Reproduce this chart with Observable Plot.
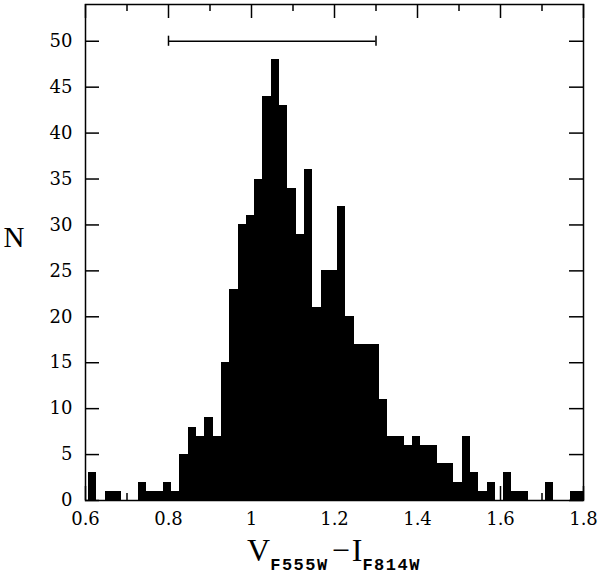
<!DOCTYPE html>
<html><head><meta charset="utf-8">
<script src="https://cdn.jsdelivr.net/npm/d3@7"></script>
<script src="https://cdn.jsdelivr.net/npm/@observablehq/plot@0.6"></script>
<style>body{margin:0;background:#fff;}</style>
</head><body><div id="chart"></div>
<script>
// Histogram of V(F555W) - I(F814W) colours
const binStart = 0.6077;
const binWidth = 0.02;
const counts = [3,0,1,1,0,0,2,1,1,2,1,5,8,7,9,7,15,23,30,31,35,44,48,43,34,29,36,21,25,25,32,20,17,17,17,11,7,7,6,7,6,6,4,4,2,7,3,1,2,0,3,1,1,0,0,2,0,0,1,1];
const xTicks = [0.6,0.8,1,1.2,1.4,1.6,1.8];
const xTickLabels = ["0.6","0.8","1","1.2","1.4","1.6","1.8"];
const xMinorTicks = [0.7,0.9,1.1,1.3,1.5,1.7];
const yTicks = [0,5,10,15,20,25,30,35,40,45,50];
const yTickLabels = ["0","5","10","15","20","25","30","35","40","45","50"];
const errBarX = [0.8, 1.3];
const errBarY = 50;
const errCap = 0.55;

const bins = counts.map((n, i) => ({x1: binStart + i*binWidth, x2: binStart + (i+1)*binWidth, n})).filter(d => d.n > 0);

const W = 600, H = 577, ML = 85, MR = 17, MT = 4, MB = 77;
const fw = W - ML - MR, fh = H - MT - MB;

const plot = Plot.plot({
  width: W, height: H,
  marginLeft: ML, marginRight: MR, marginTop: MT, marginBottom: MB,
  x: {domain: [0.6, 1.8], axis: null},
  y: {domain: [0, 54], axis: null},
  style: {fontFamily: "'DejaVu Serif', serif", fontSize: "18px", color: "black", background: "white"},
  marks: [
    Plot.rectY(bins, {x1: "x1", x2: "x2", y: "n", fill: "black", clip: true, shapeRendering: "crispEdges"}),
    Plot.ruleY([errBarY], {x1: errBarX[0], x2: errBarX[1], stroke: "black", strokeWidth: 1.5}),
    Plot.ruleX(errBarX, {y1: errBarY - errCap, y2: errBarY + errCap, stroke: "black", strokeWidth: 1.5}),
    Plot.tickX(xTicks, {x: d => d, insetTop: fh - 14, stroke: "black", strokeWidth: 1.5}),
    Plot.tickX(xTicks, {x: d => d, insetBottom: fh - 14, stroke: "black", strokeWidth: 1.5}),
    Plot.tickX(xMinorTicks, {x: d => d, insetTop: fh - 7, stroke: "black", strokeWidth: 1.5}),
    Plot.tickX(xMinorTicks, {x: d => d, insetBottom: fh - 7, stroke: "black", strokeWidth: 1.5}),
    Plot.tickY(yTicks, {y: d => d, insetRight: fw - 14, stroke: "black", strokeWidth: 1.5}),
    Plot.tickY(yTicks, {y: d => d, insetLeft: fw - 14, stroke: "black", strokeWidth: 1.5}),
    Plot.frame({stroke: "black", strokeWidth: 1.5}),
    Plot.axisX(xTicks, {anchor: "bottom", label: null, tickSize: 0, tickPadding: 12, tickFormat: (d, i) => xTickLabels[i], fontSize: 18}),
    Plot.axisY(yTicks, {anchor: "left", label: null, tickSize: 0, tickPadding: 13, tickFormat: (d, i) => yTickLabels[i], fontSize: 18}),
    Plot.text(["N"], {text: d => d, frameAnchor: "left", textAnchor: "middle", dx: -71.5, dy: -14.5, fontSize: 29, fontFamily: "'Liberation Serif', serif", fill: "black"})
  ]
});

const svg = d3.select(plot);
const sub = s => s.style("font-family", "'Liberation Mono', monospace").style("font-weight", "bold").style("font-size", "17px").style("letter-spacing", "1.5px");
const t = svg.append("text")
  .attr("x", ML + fw/2).attr("y", 561)
  .attr("text-anchor", "middle")
  .style("font-family", "'Liberation Serif', serif")
  .style("font-size", "32px")
  .attr("fill", "black");
t.append("tspan").text("V");
t.append("tspan").attr("dy", 9).call(sub).text("F555W");
t.append("tspan").attr("dx", 3).attr("dy", -9).text("\u2212");
t.append("tspan").attr("dx", 2).text("I");
t.append("tspan").attr("dy", 9).call(sub).text("F814W");

document.getElementById("chart").appendChild(plot);
</script>
</body></html>
